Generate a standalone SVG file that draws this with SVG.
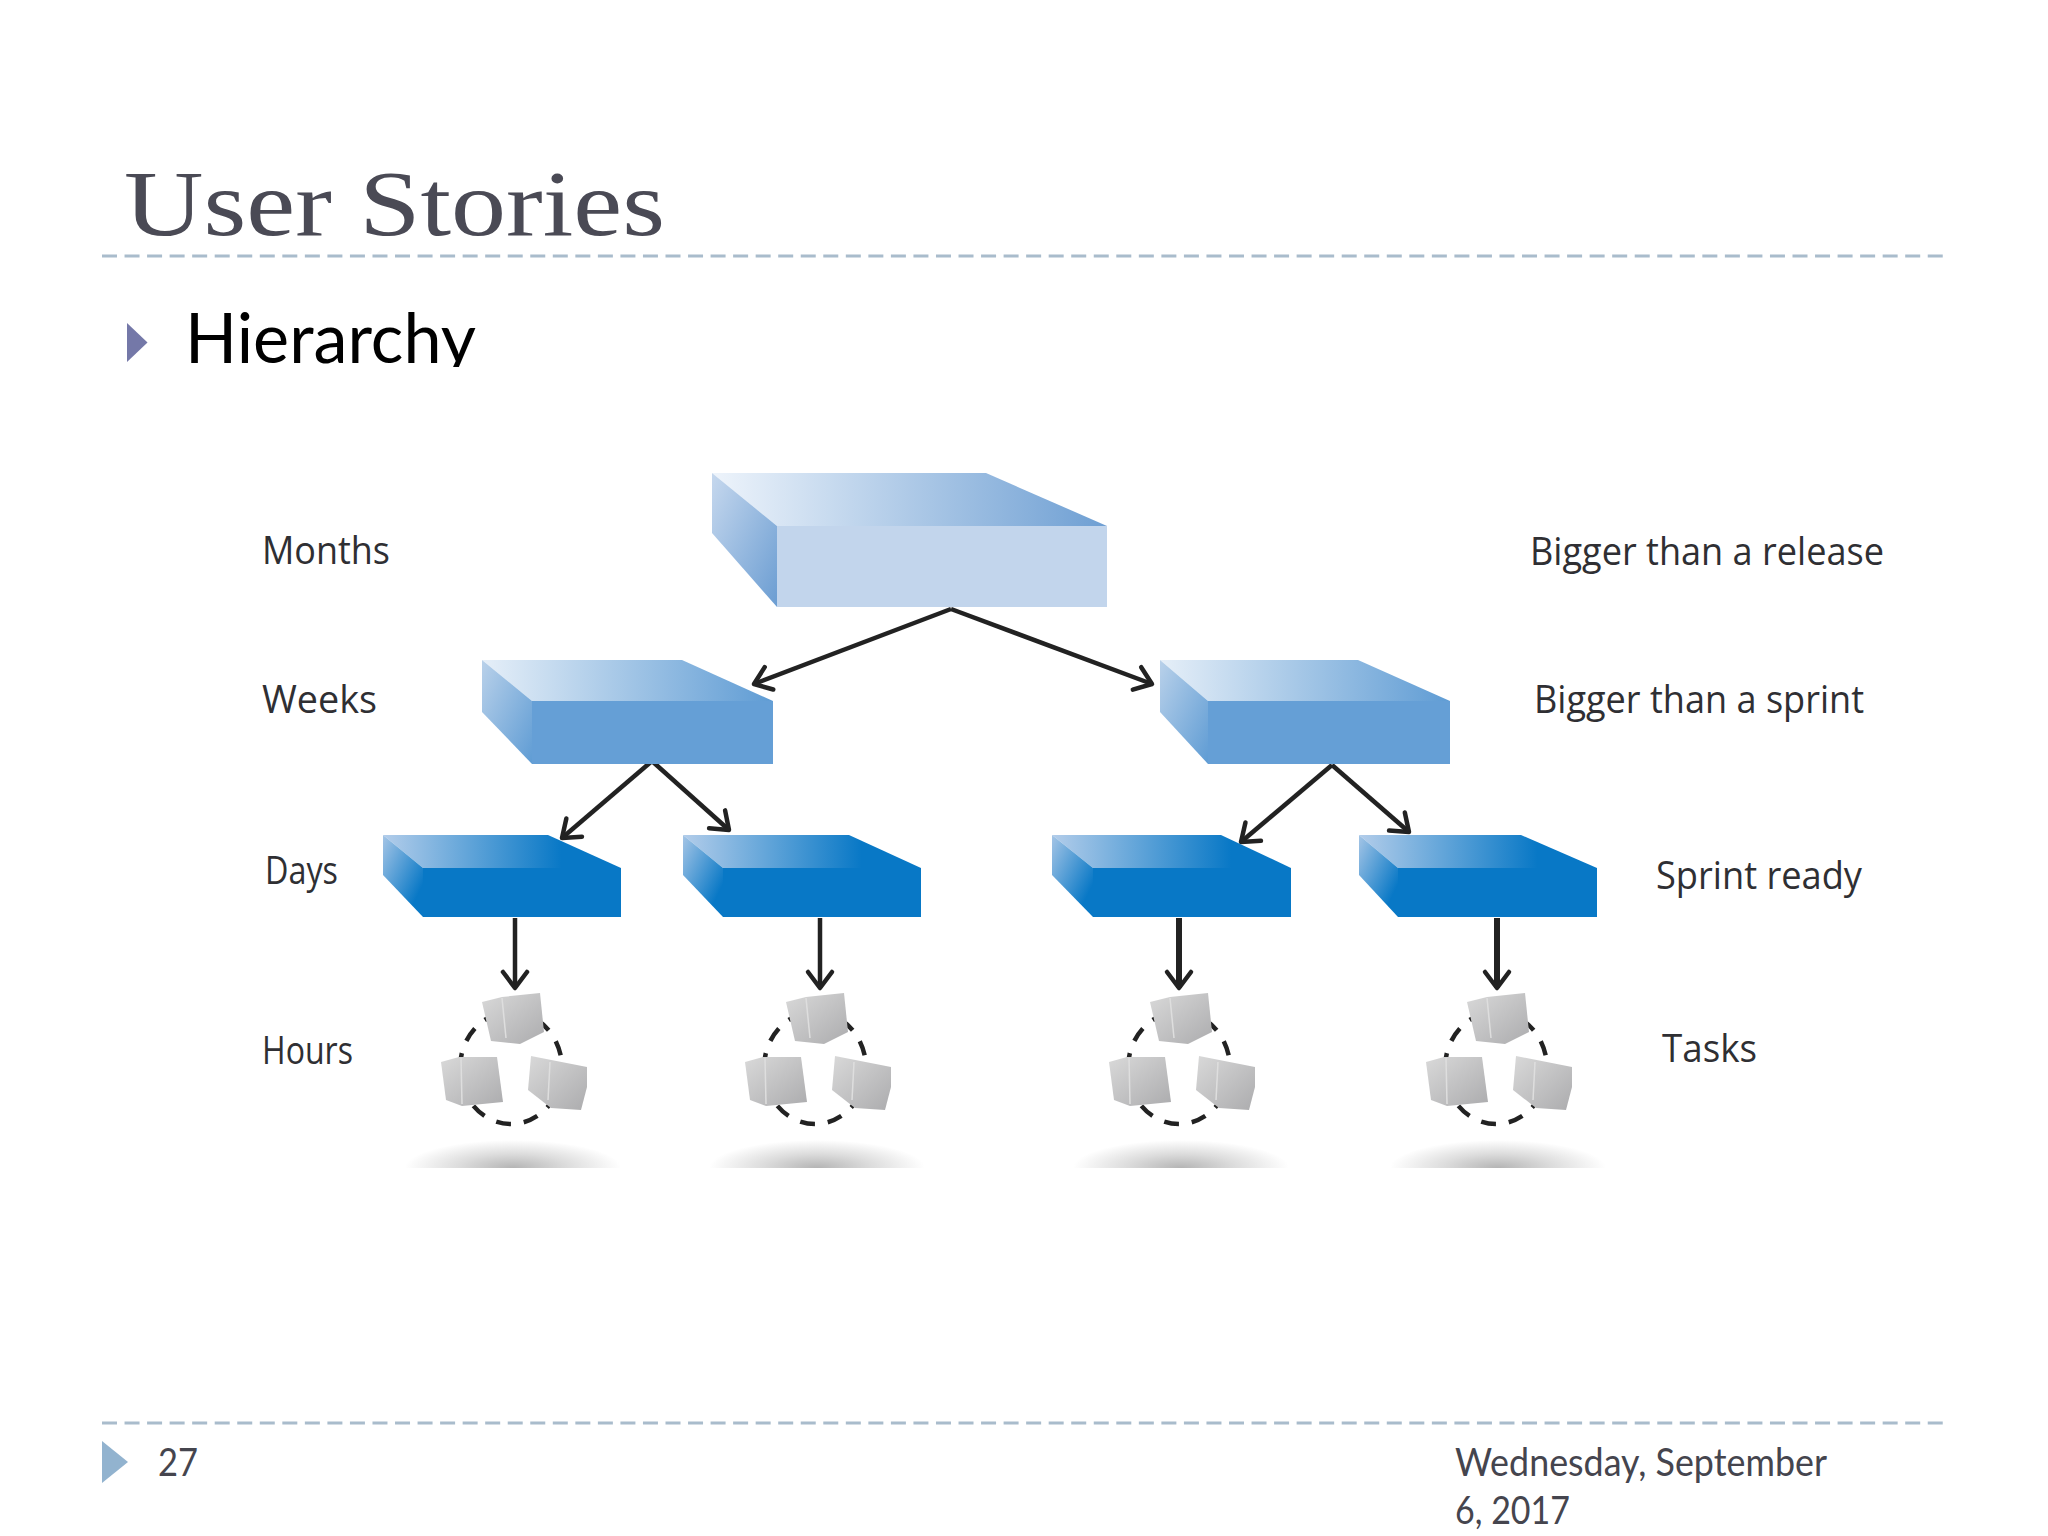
<svg xmlns="http://www.w3.org/2000/svg" width="2048" height="1536" viewBox="0 0 2048 1536">
<style>
.rule{fill:none;stroke:#a9bccc;stroke-width:3;stroke-dasharray:15 7.54}
.hand{font-family:"Open Sans","DejaVu Sans",sans-serif;font-size:38px;fill:#2f2f33}
.foot{font-family:Lato,"Liberation Sans",sans-serif;font-size:38px;fill:#45454e}
.arrow{fill:none;stroke:#222;stroke-width:4.5;marker-end:url(#head)}
.arrow.thick{stroke-width:6}
.ring{fill:none;stroke:#222;stroke-width:4.5;stroke-dasharray:15 13}
.paper{fill:url(#paperFill)}
.fold{fill:none;stroke:#dedede;stroke-width:1.5}
</style>
<defs>
<marker id="head" markerUnits="userSpaceOnUse" markerWidth="34" markerHeight="34" refX="24" refY="17" orient="auto">
<path d="M8 5 L24 17 L8 29" fill="none" stroke="#222" stroke-width="4.500" stroke-linecap="round" stroke-linejoin="round"/>
</marker>
<linearGradient id="t1"><stop offset="0" stop-color="#eef4fb"/><stop offset="1" stop-color="#6e9fd3"/></linearGradient>
<linearGradient id="s1" x1="0" y1="0" x2="1" y2="1"><stop offset="0" stop-color="#c6d8ee"/><stop offset="1" stop-color="#6b9dd2"/></linearGradient>
<linearGradient id="t2"><stop offset="0" stop-color="#e6eff8"/><stop offset="1" stop-color="#5f9cd4"/></linearGradient>
<linearGradient id="s2" x1="0" y1="0" x2="1" y2="1"><stop offset="0" stop-color="#b9d1ea"/><stop offset="1" stop-color="#5f9cd4"/></linearGradient>
<linearGradient id="t3"><stop offset="0" stop-color="#b3cdea"/><stop offset=".75" stop-color="#0878c6"/></linearGradient>
<linearGradient id="s3" x1="0" y1="0" x2="1" y2="1"><stop offset="0" stop-color="#a5c5e6"/><stop offset=".8" stop-color="#0878c6"/></linearGradient>
<linearGradient id="paperFill" x1="0" y1="0" x2="1" y2="1"><stop offset="0" stop-color="#d9d9d9"/><stop offset="1" stop-color="#acacae"/></linearGradient>
<radialGradient id="shade"><stop offset="0" stop-color="#b4b4b4"/><stop offset=".5" stop-color="#dcdcdc"/><stop offset="1" stop-color="#fff"/></radialGradient>
<clipPath id="shadeClip"><rect x="390" y="1120" width="250" height="48"/></clipPath>
<clipPath id="hClip"><rect x="180" y="300" width="310" height="67"/></clipPath>
<g id="cluster">
<ellipse class="ring" cx="511" cy="1068" rx="51" ry="56"/>
<polygon class="paper" points="482,1002 502,997 540,993 544,1032 520,1044 491,1041"/>
<path class="fold" d="M502 998 L506 1038"/>
<polygon class="paper" points="441,1062 459,1057 497,1057 503,1102 462,1106 446,1100"/>
<path class="fold" d="M461 1058 L462 1104"/>
<polygon class="paper" points="531,1056 587,1067 587,1087 581,1110 551,1108 528,1090"/>
<path class="fold" d="M550 1062 L548 1100"/>
<g clip-path="url(#shadeClip)"><ellipse cx="513" cy="1168" rx="108" ry="28" fill="url(#shade)"/></g>
</g>
</defs>
<rect width="2048" height="1536" fill="#fff"/>
<text id="title" x="124" y="235" font-family="Liberation Serif,serif" font-size="94" fill="#4a4a55" textLength="541" lengthAdjust="spacingAndGlyphs">User Stories</text>
<path class="rule" d="M102 256 H1943"/>
<polygon id="bullet" points="127,323 147.500,342.500 127,362" fill="#7478a8"/>
<g clip-path="url(#hClip)"><text id="subtitle" x="185" y="363" font-family="Lato,Liberation Sans,sans-serif" font-size="70" fill="#000" textLength="291" lengthAdjust="spacingAndGlyphs">Hierarchy</text></g>

<g id="connectors">
<path class="arrow" d="M951 609 L754 684"/>
<path class="arrow" d="M951 609 L1152 684"/>
<path class="arrow" d="M652 761 L562 838"/>
<path class="arrow" d="M652 761 L729 830"/>
<path class="arrow" d="M1332 765 L1241 842"/>
<path class="arrow" d="M1332 765 L1409 832"/>
<path class="arrow" d="M515 918 V988"/>
<path class="arrow" d="M820 918 V988"/>
<path class="arrow thick" d="M1179 918 V988"/>
<path class="arrow thick" d="M1497 918 V988"/>
</g>

<g id="node-top">
<polygon points="712,473 986,473 1107,526 777,526" fill="url(#t1)"/>
<polygon points="712,473 777,526 777,607 712,533" fill="url(#s1)"/>
<rect x="777" y="526" width="330" height="81" fill="#c2d5ec"/>
</g>
<g id="node-week-left">
<polygon points="482,660 682,660 773,701 532,701" fill="url(#t2)"/>
<polygon points="482,660 532,701 532,764 482,712" fill="url(#s2)"/>
<rect x="532" y="701" width="241" height="63" fill="#659fd6"/>
</g>
<g id="node-week-right">
<polygon points="1160,660 1358,660 1450,701 1208,701" fill="url(#t2)"/>
<polygon points="1160,660 1208,701 1208,764 1160,712" fill="url(#s2)"/>
<rect x="1208" y="701" width="242" height="63" fill="#659fd6"/>
</g>
<g id="node-day-1">
<polygon points="383,835 548,835 621,868 423,868" fill="url(#t3)"/>
<polygon points="383,835 423,868 423,917 383,875" fill="url(#s3)"/>
<rect x="423" y="868" width="198" height="49" fill="#0878c6"/>
</g>
<g id="node-day-2">
<polygon points="683,835 849,835 921,868 723,868" fill="url(#t3)"/>
<polygon points="683,835 723,868 723,917 683,875" fill="url(#s3)"/>
<rect x="723" y="868" width="198" height="49" fill="#0878c6"/>
</g>
<g id="node-day-3">
<polygon points="1052,835 1221,835 1291,868 1093,868" fill="url(#t3)"/>
<polygon points="1052,835 1093,868 1093,917 1052,875" fill="url(#s3)"/>
<rect x="1093" y="868" width="198" height="49" fill="#0878c6"/>
</g>
<g id="node-day-4">
<polygon points="1359,835 1521,835 1597,868 1398,868" fill="url(#t3)"/>
<polygon points="1359,835 1398,868 1398,917 1359,875" fill="url(#s3)"/>
<rect x="1398" y="868" width="199" height="49" fill="#0878c6"/>
</g>
<g id="node-tasks-1"><use href="#cluster"/></g>
<g id="node-tasks-2"><use href="#cluster" x="304"/></g>
<g id="node-tasks-3"><use href="#cluster" x="668"/></g>
<g id="node-tasks-4"><use href="#cluster" x="985"/></g>

<g id="labels">
<text class="hand" x="262" y="564" textLength="128" lengthAdjust="spacingAndGlyphs">Months</text>
<text class="hand" x="262" y="713" textLength="115" lengthAdjust="spacingAndGlyphs">Weeks</text>
<text class="hand" x="265" y="884" textLength="73" lengthAdjust="spacingAndGlyphs">Days</text>
<text class="hand" x="262" y="1064" textLength="91" lengthAdjust="spacingAndGlyphs">Hours</text>
<text class="hand" x="1530" y="565" textLength="354" lengthAdjust="spacingAndGlyphs">Bigger than a release</text>
<text class="hand" x="1534" y="713" textLength="330" lengthAdjust="spacingAndGlyphs">Bigger than a sprint</text>
<text class="hand" x="1656" y="889" textLength="206" lengthAdjust="spacingAndGlyphs">Sprint ready</text>
<text class="hand" x="1662" y="1062" textLength="95" lengthAdjust="spacingAndGlyphs">Tasks</text>
</g>

<path class="rule" d="M102 1423 H1943"/>
<polygon id="foot-mark" points="102,1441 128,1462 102,1483" fill="#92b3cf"/>
<text class="foot" x="158" y="1476" textLength="40" lengthAdjust="spacingAndGlyphs">27</text>
<text class="foot" x="1455" y="1476" textLength="372" lengthAdjust="spacingAndGlyphs">Wednesday, September</text>
<text class="foot" x="1455" y="1524" textLength="115" lengthAdjust="spacingAndGlyphs">6, 2017</text>
</svg>
